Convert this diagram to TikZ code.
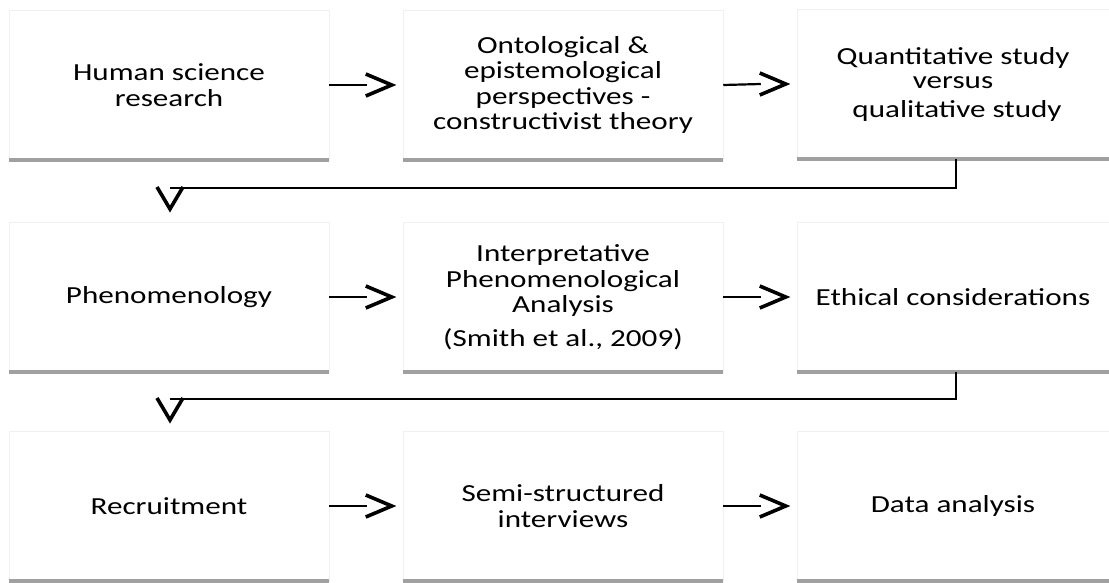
\documentclass[tikz,border=0pt]{standalone}
\usepackage{fontspec}
\setmainfont{Carlito}[FakeStretch=1.27]
\usetikzlibrary{calc}
\definecolor{boxborder}{HTML}{F0F0F0}
\definecolor{shadowgray}{HTML}{A0A0A0}
\tikzset{
  box/.style={draw=boxborder, line width=0.5pt, fill=white, minimum width=320pt,
    minimum height=150pt, inner sep=0pt, align=center,
    font=\fontsize{24.5}{25.5}\selectfont, text=black},
  narrowbox/.style={box, minimum width=312pt},
  baseline/.style={draw=shadowgray, line width=4pt},
  conn/.style={draw=black, line width=2.2pt},
  chev/.style={draw=black, line width=3.6pt, line join=miter, line cap=butt},
}
\begin{document}
\begin{tikzpicture}[x=1pt, y=-1pt]
\useasboundingbox (0,0) rectangle (1109,582);
% row 1
\node[box] (a1) at (169,85) {Human science\\research};
\node[box] (a2) at (563,85) {Ontological \&\\epistemological\\perspectives -\\constructivist theory};
\node[narrowbox] (a3) at (953,84) {Quantitative study\\[-1pt]versus\hspace*{72pt}\\[3pt]\hspace*{8pt}qualitative study};
% row 2
\node[box] (b1) at (169,297) {Phenomenology};
\node[box] (b2) at (563,297) {Interpretative\\Phenomenological\\Analysis\\[8pt](Smith et al., 2009)};
\node[narrowbox] (b3) at (953,297) {Ethical considerations};
% row 3
\node[box] (c1) at (169,506) {Recruitment};
\node[box] (c2) at (563,506) {Semi-structured\\interviews};
\node[narrowbox] (c3) at (953,506) {Data analysis};
% bottom shadow lines
\foreach \n in {a1,a2,a3,b1,b2,b3,c1,c2,c3}
  \draw[baseline] (\n.south west) -- (\n.south east);
% horizontal connectors
\foreach \s/\t in {a1/a2,a2/a3,b1/b2,b2/b3,c1/c2,c2/c3}{
  \draw[conn] (\s.east) -- ($(\t.west)+(-36,0)$);
  \draw[chev] ($(\t.west)+(-37,-11)$) -- ($(\t.west)+(-11,0)$) -- ($(\t.west)+(-37,11)$);
}
% return connectors
\coordinate (k1) at (170,188);
\coordinate (k2) at (170,399);
\draw[conn] (a3.south -| 956,0) |- (k1);
\draw[conn] (b3.south -| 956,0) |- (k2);
\draw[chev] ($(k1)+(-13,-1)$) -- ($(k1)+(0,21)$) -- ($(k1)+(13,-1)$);
\draw[chev] ($(k2)+(-13,-1)$) -- ($(k2)+(0,21)$) -- ($(k2)+(13,-1)$);
\end{tikzpicture}
\end{document}
